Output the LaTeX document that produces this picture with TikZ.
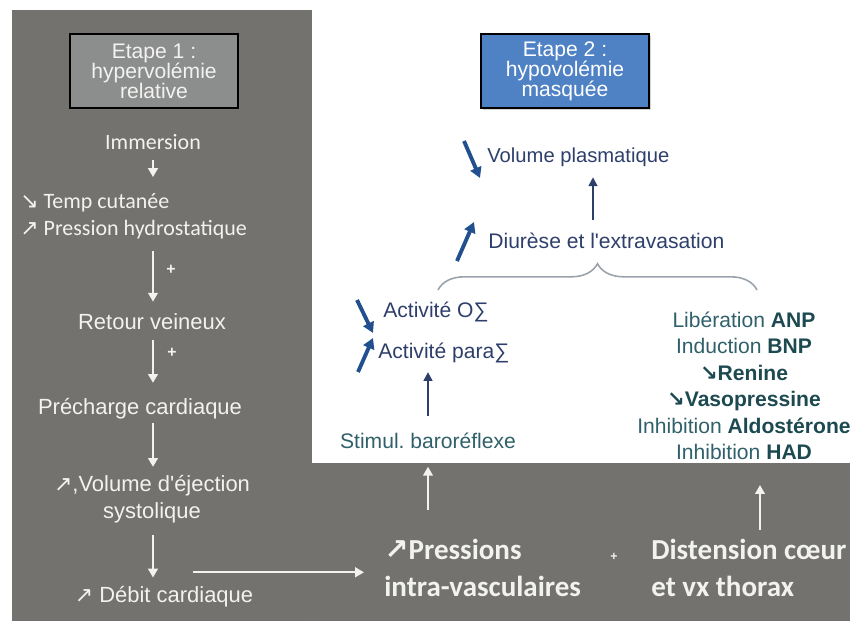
\documentclass[tikz,border=0pt]{standalone}
\usepackage{fontspec}
\setmainfont{Liberation Sans}[Ligatures=TeXOff]
\newfontfamily\calib{Carlito}
\newfontfamily\arrfont{DejaVu Sans}
\usetikzlibrary{arrows.meta,positioning,calc,shadows,decorations.pathreplacing}

\definecolor{panelgray}{HTML}{73726E}
\definecolor{boxgray}{HTML}{8C8E8D}
\definecolor{boxblue}{HTML}{4F81C5}
\definecolor{navy}{HTML}{2E3F6B}
\definecolor{arrblue}{HTML}{22508F}
\definecolor{tealtext}{HTML}{30606A}
\definecolor{tealbold}{HTML}{1C4A50}
\definecolor{bracegray}{HTML}{9AA3AB}
\definecolor{offwhite}{HTML}{F2F2F0}

\newcommand{\arrup}{{\arrfont ↗}}
\newcommand{\arrdn}{{\arrfont ↘}}
\newcommand{\hb}[1]{\textcolor{tealbold}{\bfseries #1}}
\frenchspacing

\begin{document}
\begin{tikzpicture}[x=0.02cm,y=-0.02cm,
    every node/.style={inner sep=0pt},
    lefttxt/.style={text=offwhite,font=\fontsize{12.5}{15.4}\selectfont},
    calitxt/.style={text=offwhite,font=\calib\fontsize{12.5}{15.4}\selectfont},
    stagebox/.style={draw=black,line width=1.3pt,align=center,minimum width=95.5pt,minimum height=42.5pt,
      font=\fontsize{12}{11.4}\selectfont,drop shadow={opacity=0.35,shadow xshift=1.2pt,shadow yshift=-1.2pt}},
    flow/.style={draw=offwhite,line width=1.1pt,-{Triangle[length=5pt,width=5.5pt]}},
    plus/.style={text=offwhite,font=\bfseries\small},
    navytxt/.style={text=navy,font=\fontsize{11.5}{14}\selectfont},
    bluearr/.style={draw=arrblue,line width=2.2pt,-{Triangle[length=6pt,width=6.5pt]}},
    thinarr/.style={draw=navy,line width=1.1pt,-{Triangle[length=5pt,width=5pt]}},
    tealtxt/.style={text=tealtext,font=\fontsize{12}{15.1}\selectfont},
    bigtxt/.style={text=offwhite,font=\calib\bfseries\fontsize{16.5}{21}\selectfont}
  ]
  \useasboundingbox (0,0) rectangle (850,621);
  \clip (0,0) rectangle (850,621);

  % panels
  \fill[panelgray] (12,10) rectangle (312,621);
  \fill[panelgray] (312,463) rectangle (850,621);
  \draw[black!55,line width=0.8pt] (312,463) -- (312,621);

  % etape 1
  \node[stagebox,fill=boxgray,text=offwhite] (stage1) at (154,71) {Etape 1 :\\hypervolémie\\relative};
  \coordinate (col) at (153,0);
  \node[calitxt] (imm) at (153,142) {Immersion};
  \node[calitxt,anchor=west,align=left] (temp) at (20,216) {\arrdn{} Temp cutanée\\\arrup{} Pression hydrostatique};
  \node[lefttxt] (ret) at (152,322) {Retour veineux};
  \node[lefttxt] (pre) at (140,409) {Précharge cardiaque};
  \node[lefttxt,align=center] (ves) at (152,499) {\arrup,Volume d'éjection\\systolique};
  \node[lefttxt] (deb) at (164,597) {\arrup{} Débit cardiaque};
  \node[plus] (plus1) at (171,270) {+};
  \node[plus] (plus2) at (172,353) {+};

  \draw[flow,shorten <=5.7pt,shorten >=9pt] (imm.south -| col) -- (temp.north -| col);
  \draw[flow,shorten <=6.8pt,shorten >=6.8pt] (temp.south -| col) -- (ret.north -| col);
  \draw[flow,shorten <=5.7pt,shorten >=8.8pt] (ret.south -| col) -- (pre.north -| col);
  \draw[flow,shorten <=2pt,shorten >=4.5pt] (pre.south -| col) -- (ves.north -| col);
  \draw[flow,shorten <=6.8pt,shorten >=5pt] (ves.south -| col) -- (deb.north -| col);

  % etape 2
  \node[stagebox,fill=boxblue,text=white] (stage2) at (565,71) {Etape 2 :\\hypovolémie\\masquée};
  \node[navytxt,anchor=west] (vol) at (487,157) {Volume plasmatique};
  \node[navytxt,anchor=west,font=\fontsize{12}{14}\selectfont] (diu) at (488,241) {Diurèse et l'extravasation};
  \coordinate (volup) at (593,0);
  \draw[thinarr,shorten <=7.4pt,shorten >=6pt] (diu.north -| volup) -- (vol.south -| volup);
  \draw[bluearr] ([shift={(-23,-16)}]vol.west) -- ([shift={(-7,21)}]vol.west);
  \draw[bluearr] ([shift={(-31,20)}]diu.west) -- ([shift={(-14,-19)}]diu.west);

  \draw[bracegray,line width=0.9pt,decorate,decoration={brace,amplitude=15pt}] (438,290) -- (757,290);

  \node[navytxt,anchor=west,font=\fontsize{12}{14}\selectfont] (act) at (383,312) {Activité O∑};
  \node[navytxt,anchor=west,font=\fontsize{12}{14}\selectfont] (para) at (378,353) {Activité para∑};
  \draw[bluearr] ([shift={(-26,-12)}]act.west) -- ([shift={(-10,21)}]act.west);
  \draw[bluearr] ([shift={(-20,19)}]para.west) -- ([shift={(-5,-15)}]para.west);
  \node[tealtxt] (stim) at (428,441) {Stimul. baroréflexe};
  \draw[thinarr,shorten <=9.7pt,shorten >=5pt] (stim.north) -- (stim.north |- para.south);

  \node[tealtxt,align=center] (hormones) at (744,386) {Libération \hb{ANP}\\Induction \hb{BNP}\\\hb{\arrdn Renine}\\\hb{\arrdn Vasopressine}\\Inhibition \hb{Aldostérone}\\Inhibition \hb{HAD}};

  % bande du bas
  \node[bigtxt,anchor=west,align=left] (pres) at (384,568) {\arrup Pressions\\intra-vasculaires};
  \node[bigtxt,anchor=west,align=left] (dist) at (651,568) {Distension cœur\\et vx thorax};
  \node[plus,font=\bfseries\scriptsize] (plus3) at (614,557) {+};
  \coordinate (distup) at (760,0);
  \draw[flow,line width=0.9pt,shorten <=16.5pt,shorten >=10pt] (pres.north -| stim.south) -- (stim.south);
  \draw[flow,line width=0.9pt,shorten <=5pt,shorten >=14pt] (dist.north -| distup) -- (hormones.south -| distup);
  \draw[flow,shorten >=11.4pt] ([shift={(29,-14)}]deb.north) coordinate (hstart) -- (hstart -| pres.west);
\end{tikzpicture}
\end{document}
